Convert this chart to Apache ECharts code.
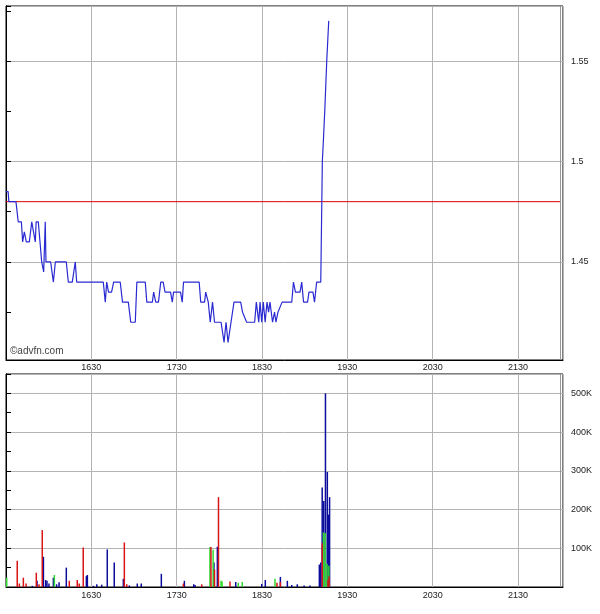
<!DOCTYPE html>
<html>
<head>
<meta charset="utf-8">
<title>Intraday price and volume</title>
<script src="https://cdn.jsdelivr.net/npm/echarts@6/dist/echarts.min.js"></script>
<style>
  html, body { margin: 0; padding: 0; background: #fff; }
  #chart { width: 600px; height: 614px; }
</style>
</head>
<body>
<div id="chart"></div>
<script>
// times are minutes after 15:30
var priceTimes = [0, 1.5, 2, 7, 8.6, 10.8, 11.7, 12.9, 14.3, 16.4, 18.1, 19.5, 20.6, 21.2, 22.7,
  25.1, 26.5, 27.6, 28.1, 31.4, 33.3, 34.7, 42.4, 43.8, 46.6, 48.7, 49.7, 68.4, 69.8, 70.8,
  72.1, 74.2, 75.7, 80.3, 81.9, 86, 87.7, 90.9, 92, 97.9, 99, 102.9, 103.8, 104.5, 105.3,
  107.2, 108.8, 110.5, 111.8, 115.7, 116.9, 117.8, 122.7, 123.9, 124.8, 135.8, 136.9, 139.6,
  140.4, 141.3, 142.2, 143.6, 145.2, 146.6, 151.2, 153.3, 154.7, 156.1, 158.2, 160.3, 165,
  166.3, 167.3, 169.2, 174.8, 176, 177, 177.7, 178.6, 179.8, 180.9, 182.2, 183.5, 184.6,
  185.6, 187.4, 188.8, 189.8, 191.2, 192.6, 194.1, 200.9, 202.1, 203.5, 206.7, 207.9, 209.2,
  212, 213, 215.8, 216.9, 218.4, 221.3, 222.4, 223.1, 224.1, 225.5, 226.9];
var priceValues = [1.485, 1.485, 1.48, 1.48, 1.47, 1.47, 1.46, 1.465, 1.46, 1.46, 1.47, 1.47, 1.46, 1.47, 1.47,
  1.45, 1.445, 1.47, 1.45, 1.45, 1.44, 1.45, 1.45, 1.44, 1.44, 1.45, 1.44, 1.44, 1.43, 1.44,
  1.435, 1.435, 1.44, 1.44, 1.43, 1.43, 1.42, 1.42, 1.44, 1.44, 1.43, 1.43, 1.435, 1.435, 1.43,
  1.43, 1.44, 1.44, 1.435, 1.435, 1.43, 1.435, 1.435, 1.43, 1.44, 1.44, 1.43, 1.43,
  1.435, 1.435, 1.43, 1.42, 1.43, 1.42, 1.42, 1.41, 1.42, 1.41, 1.42, 1.43, 1.43,
  1.425, 1.425, 1.42, 1.42, 1.43, 1.43, 1.42, 1.43, 1.42, 1.43, 1.42, 1.43, 1.425,
  1.43, 1.42, 1.425, 1.42, 1.425, 1.425, 1.43, 1.43, 1.44, 1.435, 1.435, 1.44, 1.43,
  1.43, 1.435, 1.435, 1.43, 1.44, 1.44, 1.50, 1.51, 1.525, 1.55, 1.57];

var prevClose = 1.48;
var sessionEnd = 390;

// volume per trade colour: [minute, shares]
var blueVolume = [[18.5, 3000], [21.8, 16000], [26.3, 78000], [27.9, 18000], [28.8, 16000], [30.2, 9000],
  [33.3, 24000], [35.6, 7000], [37.3, 12000], [42.4, 50000], [56.5, 28000], [57.2, 31000],
  [61.4, 3000], [63.8, 7000], [67.3, 6000], [71.2, 97000], [76.1, 63000], [82.5, 21000],
  [86.7, 4000], [92.3, 9000], [95.1, 9000], [109.2, 34000], [125.4, 16000], [132, 7000],
  [132.9, 5000], [146.2, 63000], [148.6, 104000], [161.5, 13000], [179.8, 8000], [182.3, 18000],
  [192.9, 26000], [197.8, 16000], [200.9, 5000], [204.8, 7000], [209.6, 4000], [213.7, 4000],
  [220.3, 58000], [221.3, 63000], [222.3, 257000], [223.4, 222000], [224.6, 500000],
  [225.9, 297000], [226.8, 187000], [227.5, 232000]];
var redVolume = [[7.9, 68000], [9.4, 9000], [12.2, 24000], [14.1, 9000], [21.3, 37000], [23.2, 7000],
  [25.5, 147000], [44.5, 16000], [50.1, 18000], [51.5, 9000], [54.3, 102000], [83.2, 115000],
  [84.9, 7000], [124.7, 9000], [137.6, 7000], [144.1, 103000], [146.6, 45000], [149.4, 232000],
  [157.5, 14000], [190.5, 11000], [192.9, 13000], [222.3, 113000], [226.4, 18000], [227.1, 27000]];
var greenVolume = [[0.5, 24000], [34, 31000], [143.4, 103000], [145.6, 96000], [151.2, 16000],
  [151.9, 14000], [163.3, 11000], [166.1, 13000], [189.1, 21000], [223.2, 141000],
  [224.5, 139000], [225.7, 60000], [227, 55000]];

var priceData = priceTimes.map(function(t, i) { return [t, priceValues[i]]; });
var prevCloseData = [[0, prevClose], [sessionEnd, prevClose]];

function hhmm(m) {
  var t = 15 * 60 + 30 + m;
  var mm = t % 60;
  return String(Math.floor(t / 60)) + (mm < 10 ? '0' : '') + mm;
}

var font = 'Liberation Sans';
var labelStyle = { fontSize: 9, color: '#222', fontFamily: font };
var gridGray = '#b4b4b4';

function timeAxis(gridIndex, margin) {
  return {
    type: 'value', gridIndex: gridIndex, min: 0, max: 391.6, interval: 60,
    axisLine: { lineStyle: { color: '#000', width: 1 } },
    axisTick: { show: false },
    axisLabel: Object.assign({
      margin: margin,
      showMinLabel: false,
      formatter: function(v) { return (v > 0 && v % 60 === 0) ? hhmm(v) : ''; }
    }, labelStyle),
    splitLine: { show: true, lineStyle: { color: gridGray, width: 1 } }
  };
}

var sessionLine = {
  silent: true, symbol: 'none', label: { show: false }, animation: false,
  lineStyle: { color: '#999', type: 'solid', width: 1 },
  data: [{ xAxis: sessionEnd }]
};

var myChart = echarts.init(document.getElementById('chart'));

var option = {
  animation: false,
  backgroundColor: '#fff',
  grid: [
    { left: 6, top: 6, width: 557, height: 354, show: true, borderColor: '#000', borderWidth: 1 },
    { left: 6, top: 374, width: 557, height: 213, show: true, borderColor: '#000', borderWidth: 1 }
  ],
  xAxis: [timeAxis(0, 3), timeAxis(1, 4)],
  yAxis: [
    {
      type: 'value', gridIndex: 0, position: 'right', min: 1.4012, max: 1.5774, splitNumber: 4,
      axisLine: { show: true, lineStyle: { color: '#000' } },
      axisTick: { show: true, length: 5, lineStyle: { color: '#000' } },
      minorTick: { show: true, splitNumber: 2, length: 5, lineStyle: { color: '#000' } },
      axisLabel: Object.assign({
        margin: 8, showMinLabel: false, showMaxLabel: false,
        formatter: function(v) {
          return Math.abs(v * 20 - Math.round(v * 20)) < 1e-6 ? String(+v.toFixed(2)) : '';
        }
      }, labelStyle),
      splitLine: { show: true, lineStyle: { color: gridGray } }
    },
    {
      type: 'value', gridIndex: 0, position: 'left', min: 1.4012, max: 1.5774, splitNumber: 4,
      axisLine: { show: true, lineStyle: { color: '#000' } },
      axisTick: { show: true, inside: true, length: 3, lineStyle: { color: '#000' } },
      minorTick: { show: true, splitNumber: 2, length: 3, lineStyle: { color: '#000' } },
      axisLabel: { show: false },
      splitLine: { show: false }
    },
    {
      type: 'value', gridIndex: 1, position: 'right', min: 0, max: 550000, interval: 100000,
      axisLine: { show: true, lineStyle: { color: '#000' } },
      axisTick: { show: true, length: 5, lineStyle: { color: '#000' } },
      minorTick: { show: true, splitNumber: 2, length: 5, lineStyle: { color: '#000' } },
      axisLabel: Object.assign({
        margin: 8,
        formatter: function(v) { return (v > 0 && v % 100000 === 0) ? (v / 1000) + 'K' : ''; }
      }, labelStyle),
      splitLine: { show: true, lineStyle: { color: gridGray } }
    },
    {
      type: 'value', gridIndex: 1, position: 'left', min: 0, max: 550000, interval: 100000,
      axisLine: { show: true, lineStyle: { color: '#000' } },
      axisTick: { show: true, inside: true, length: 3, lineStyle: { color: '#000' } },
      minorTick: { show: true, splitNumber: 2, length: 3, lineStyle: { color: '#000' } },
      axisLabel: { show: false },
      splitLine: { show: false }
    }
  ],
  graphic: [{
    type: 'text', left: 10, top: 346,
    style: { text: '©advfn.com', fill: '#444', font: '10px "Liberation Sans"' }
  }],
  series: [
    {
      name: 'previous close', type: 'line', xAxisIndex: 0, yAxisIndex: 0,
      data: prevCloseData, showSymbol: false, symbol: 'none', silent: true,
      lineStyle: { color: '#e00000', width: 1 },
      markLine: sessionLine,
      z: 2
    },
    {
      name: 'price', type: 'line', xAxisIndex: 0, yAxisIndex: 0,
      data: priceData, showSymbol: false, symbol: 'none',
      lineStyle: { color: '#2a2ad2', width: 1.2 },
      z: 3
    },
    {
      name: 'buy', type: 'bar', xAxisIndex: 1, yAxisIndex: 2,
      data: blueVolume, barWidth: 1.5, barGap: '-100%',
      itemStyle: { color: '#0c0c9c' },
      markLine: sessionLine
    },
    {
      name: 'neutral', type: 'bar', xAxisIndex: 1, yAxisIndex: 2,
      data: greenVolume, barWidth: 1.5, barGap: '-100%',
      itemStyle: { color: '#30d830' }
    },
    {
      name: 'sell', type: 'bar', xAxisIndex: 1, yAxisIndex: 2,
      data: redVolume, barWidth: 1.5, barGap: '-100%',
      itemStyle: { color: '#d81414' }
    }
  ]
};

myChart.setOption(option);
</script>
</body>
</html>
